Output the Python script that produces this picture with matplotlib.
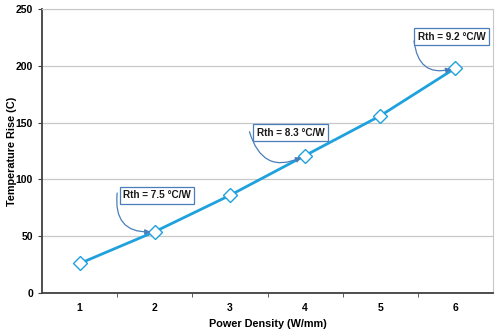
import matplotlib

matplotlib.use("Agg")

import matplotlib.pyplot as plt

plt.rcParams["font.family"] = ["Liberation Sans", "DejaVu Sans"]

LINE = "#1ea1dd"
CALLOUT = "#4a7ebb"
GRID = "#c8c8c8"
SPINE = "#404040"

power = [1, 2, 3, 4, 5, 6]
temp_rise = [26, 54, 86, 121, 156, 198]

notes = ["Rth = 7.5 °C/W", "Rth = 8.3 °C/W", "Rth = 9.2 °C/W"]
note_points = [1, 3, 5]          # index into the series
note_text_xy = [(2.03, 86), (3.81, 141), (5.95, 225.5)]
note_tail_xy = [(1.50, 88), (3.26, 142), (5.45, 222)]

fig = plt.figure(figsize=(5, 3.33), dpi=100)
ax = fig.add_axes([0.084, 0.12, 0.902, 0.853])

ax.plot(power, temp_rise, color=LINE, lw=2.0, marker="D", ms=7,
        mfc="white", mec=LINE, mew=1.0, zorder=3)

for txt, i, txy, tail in zip(notes, note_points, note_text_xy, note_tail_xy):
    ax.annotate("", xy=(power[i], temp_rise[i]), xytext=tail,
                arrowprops=dict(arrowstyle="-|>", color=CALLOUT, lw=0.9,
                                mutation_scale=8, shrinkA=0, shrinkB=3,
                                connectionstyle="arc3,rad=0.6"), zorder=4)
    ax.text(txy[0], txy[1], txt, ha="center", va="center", fontsize=7.2,
            fontweight="bold", color="#1a1a1a", zorder=5,
            bbox=dict(boxstyle="square,pad=0.35", fc="white", ec=CALLOUT, lw=0.9))

ax.set_xlim(0.5, 6.5)
ax.set_ylim(0, 250)
ax.set_xticks(power)
ax.set_xticks([1.5, 2.5, 3.5, 4.5, 5.5], minor=True)
ax.set_yticks(range(0, 251, 50))
ax.tick_params(axis="x", which="major", length=0, pad=7, labelsize=7.5)
ax.tick_params(axis="x", which="minor", length=3, color=SPINE)
ax.tick_params(axis="y", length=3, color=SPINE, labelsize=7.5)
for lab in ax.get_xticklabels() + ax.get_yticklabels():
    lab.set_fontweight("bold")

ax.grid(axis="y", color=GRID, lw=0.9)
ax.set_axisbelow(True)
ax.spines["left"].set_color(SPINE)
ax.spines["left"].set_linewidth(1.3)
ax.spines["bottom"].set_color(SPINE)
ax.spines["bottom"].set_linewidth(1.3)
ax.spines["top"].set_color(GRID)
ax.spines["right"].set_color(GRID)

ax.set_xlabel("Power Density (W/mm)", fontsize=7.8, fontweight="bold")
ax.set_ylabel("Temperature Rise (C)", fontsize=7.8, fontweight="bold")
ax.xaxis.set_label_coords(0.5, -0.09)
ax.yaxis.set_label_coords(-0.056, 0.5)

fig.savefig("out.png", dpi=100)
